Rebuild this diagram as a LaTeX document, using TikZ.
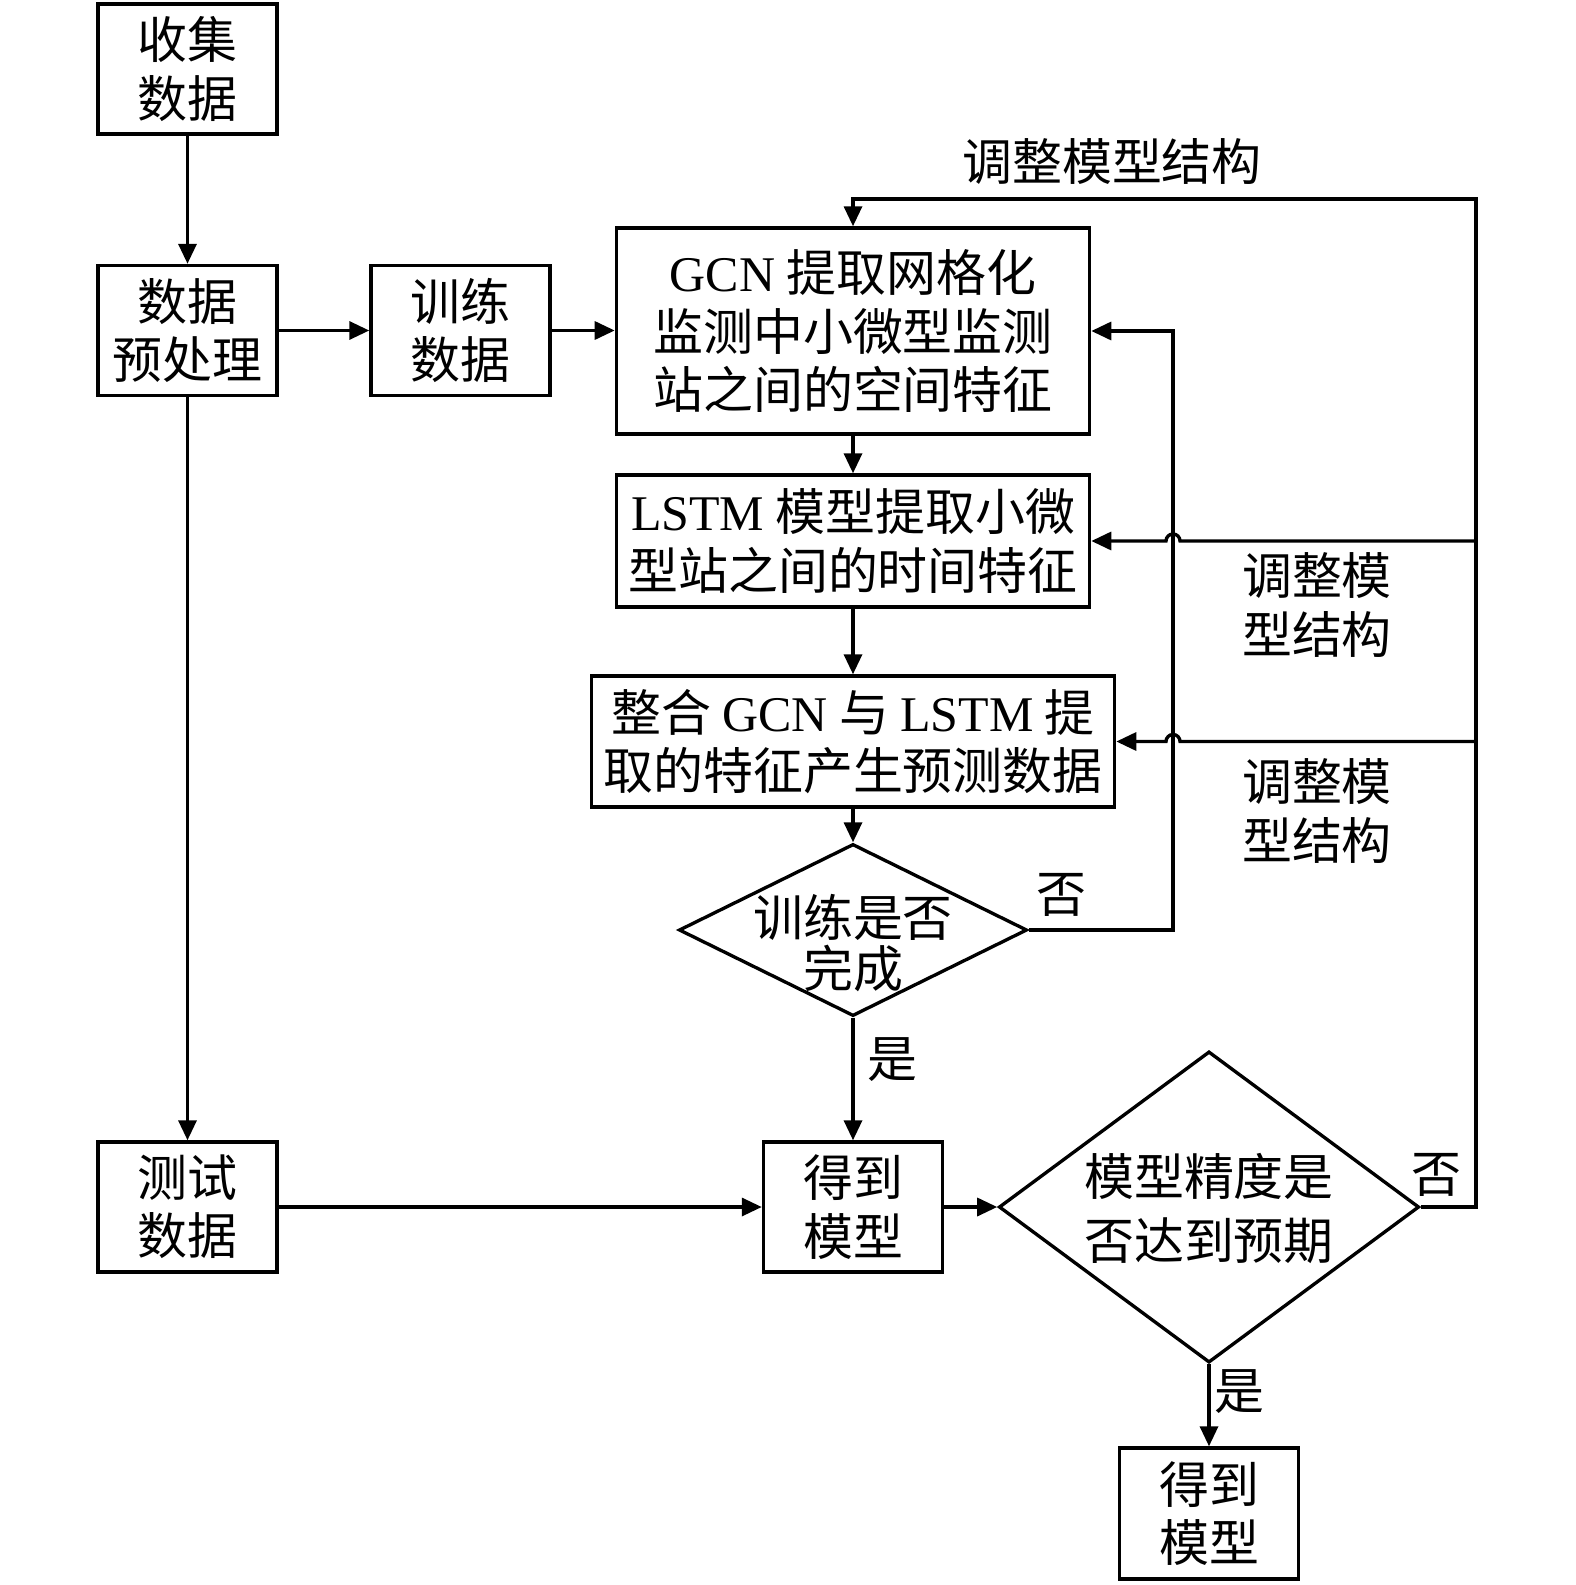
\documentclass[tikz,border=0pt]{standalone}
\usepackage{fontspec}
\setmainfont{Noto Sans CJK SC}
\newfontfamily\lat{Liberation Serif}
\usetikzlibrary{shapes.geometric,arrows.meta}

\begin{document}
\begin{tikzpicture}[x=0.01cm,y=-0.01cm,
        font=\fontsize{14.2pt}{16.6pt}\selectfont,
        every node/.style={inner sep=0pt},
        box/.style={draw,line width=0.95pt,align=center,minimum width=1.79cm,minimum height=1.30cm},
        decision/.style={draw,diamond,line width=0.95pt},
        arr/.style={line width=0.95pt,-{Triangle[length=0.20cm,width=0.18cm]}}]
        \useasboundingbox (0,0) rectangle (1575,1585);

        % boxes on the left
        \node[box] (collect) at (187.5,69) {收集\\数据};
        \node[box] (prep) at (187.5,330.5) {数据\\预处理};
        \node[box] (train) at (460.5,330.5) {训练\\数据};
        \node[box] (test) at (187.5,1207) {测试\\数据};

        % model column
        \node[box,minimum width=4.73cm,minimum height=2.06cm] (gcn) at (853,331)
            {{\lat GCN} 提取网格化\\监测中小微型监测\\站之间的空间特征};
        \node[box,minimum width=4.73cm,minimum height=1.32cm] (lstm) at (853,541)
            {{\lat LSTM} 模型提取小微\\型站之间的时间特征};
        \node[box,minimum width=5.23cm,minimum height=1.31cm] (fuse) at (853,741.5)
            {整合 {\lat GCN} 与 {\lat LSTM} 提\\取的特征产生预测数据};
        \node[decision,minimum width=3.48cm,minimum height=1.72cm] (done) at (853,930) {};
        \node[align=center,font=\fontsize{14.2pt}{14.5pt}\selectfont] at (853,943) {训练是否\\完成};
        \node[box] (model) at (853,1207) {得到\\模型};
        \node[decision,minimum width=4.20cm,minimum height=3.11cm] (acc) at (1209,1207) {};
        \node[align=center,font=\fontsize{14.2pt}{18.2pt}\selectfont] at (1209,1208) {模型精度是\\否达到预期};
        \node[box,minimum height=1.31cm] (final) at (1209,1513.5) {得到\\模型};

        % corners of the loops
        \coordinate (tr) at (1476,199);
        \coordinate (hx) at (1173,0);

        % main flow
        \draw[arr] (collect.south) -- (prep.north);
        \draw[arr] (prep.east) -- (train.west);
        \draw[arr] (train.east) -- (train.east -| gcn.west);
        \draw[arr] (gcn.south) -- (lstm.north);
        \draw[arr] (lstm.south) -- (fuse.north);
        \draw[arr] (fuse.south) -- (done.north);
        \draw[arr] (done.south) -- (model.north);
        \draw[arr] (prep.south) -- (test.north);
        \draw[arr] (test.east) -- (model.west);
        \draw[arr] (model.east) -- (acc.west);
        \draw[arr] (acc.south) -- (final.north);

        % training not finished
        \draw[arr] (done.east) -- (done.east -| hx) |- (gcn.east);

        % accuracy not reached
        \draw[arr] (acc.east) -| (tr) -| (gcn.north);
        \draw[arr] (lstm.east -| tr) -- ([xshift=0.07cm]lstm.east -| hx)
            arc[start angle=0,end angle=180,radius=0.07cm] -- (lstm.east);
        \draw[arr] (fuse.east -| tr) -- ([xshift=0.07cm]fuse.east -| hx)
            arc[start angle=0,end angle=180,radius=0.07cm] -- (fuse.east);

        % labels
        \node at (1061,895) {否};
        \node at (892,1060) {是};
        \node at (1436,1175) {否};
        \node at (1239,1392) {是};
        \node at (1112,162) {调整模型结构};
        \node[align=center] at (1317,605) {调整模\\型结构};
        \node[align=center] at (1317,811) {调整模\\型结构};
    \end{tikzpicture}
\end{document}
